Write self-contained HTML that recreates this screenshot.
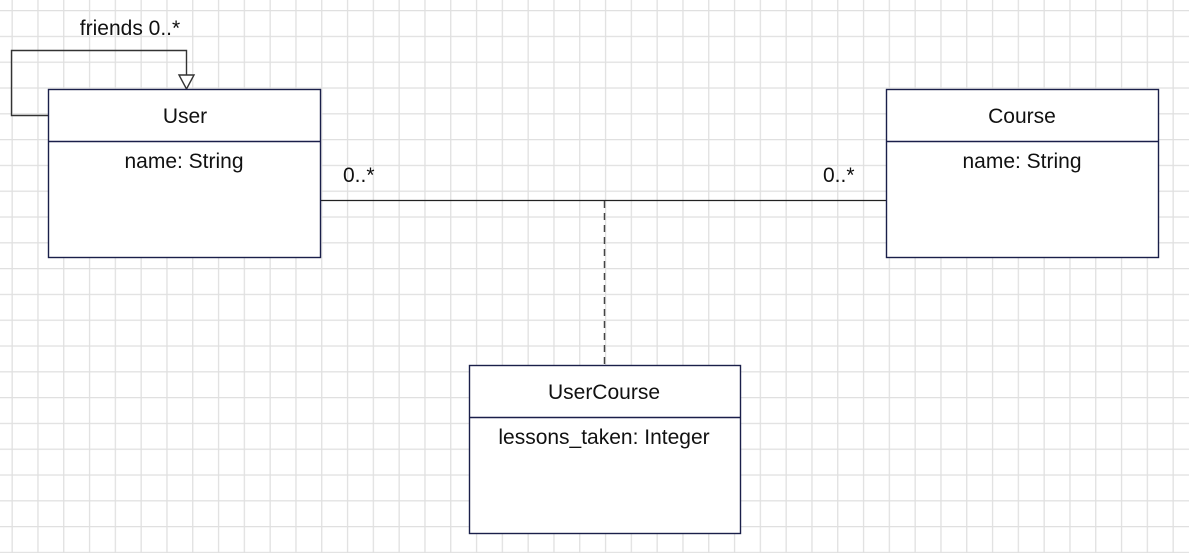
<!DOCTYPE html>
<html><head><meta charset="utf-8"><style>
html,body{margin:0;padding:0;background:#fff;}
svg{display:block;}
text{font-family:"Liberation Sans",Arial,sans-serif;font-size:21px;fill:#111;}
</style></head><body>
<svg width="1189" height="553" xmlns="http://www.w3.org/2000/svg">
<defs>
<pattern id="g" x="11.5" y="10" width="25.8" height="25.8" patternUnits="userSpaceOnUse">
<path d="M0.5 0V25.8M0 0.5H25.8" stroke="#e0e0e0" stroke-width="1.6" fill="none"/>
</pattern>
</defs>
<rect width="1189" height="553" fill="url(#g)"/>
<line x1="320" y1="200.5" x2="886" y2="200.5" stroke="#222" stroke-width="1.3"/>
<line x1="604.5" y1="201" x2="604.5" y2="364" stroke="#444" stroke-width="1.5" stroke-dasharray="7,5"/>
<polyline points="48,115.5 11.5,115.5 11.5,50.5 186.5,50.5 186.5,75" fill="none" stroke="#333" stroke-width="1.4"/>
<polygon points="179,75 194,75 186.5,89" fill="#fff" stroke="#333" stroke-width="1.4"/>
<text x="130" y="35" text-anchor="middle">friends 0..*</text>
<rect x="48.5" y="89.5" width="272" height="168" fill="#fff" stroke="#1a1f4a" stroke-width="1.4"/>
<line x1="48" y1="141.5" x2="321" y2="141.5" stroke="#1a1f4a" stroke-width="1.6"/>
<text x="185" y="123" text-anchor="middle">User</text>
<text x="184" y="168" text-anchor="middle">name: String</text>
<rect x="886.5" y="89.5" width="272" height="168" fill="#fff" stroke="#1a1f4a" stroke-width="1.4"/>
<line x1="886" y1="141.5" x2="1159" y2="141.5" stroke="#1a1f4a" stroke-width="1.6"/>
<text x="1022" y="123" text-anchor="middle">Course</text>
<text x="1022" y="168" text-anchor="middle">name: String</text>
<rect x="469.5" y="365.5" width="271" height="168" fill="#fff" stroke="#1a1f4a" stroke-width="1.4"/>
<line x1="469" y1="417.5" x2="741" y2="417.5" stroke="#1a1f4a" stroke-width="1.6"/>
<text x="604" y="399" text-anchor="middle">UserCourse</text>
<text x="604" y="444" text-anchor="middle">lessons_taken: Integer</text>
<text x="343" y="182">0..*</text>
<text x="823" y="182">0..*</text>
</svg>
</body></html>
